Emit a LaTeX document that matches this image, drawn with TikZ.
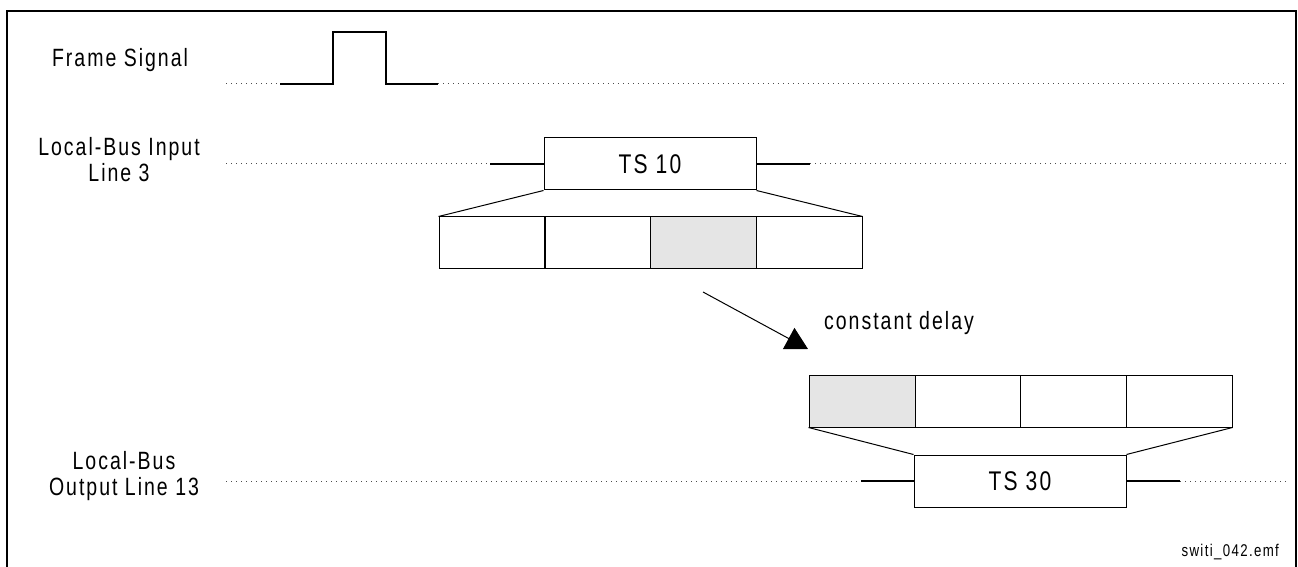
\documentclass[tikz,border=0pt]{standalone}
\usepackage{fontspec}
\setmainfont{Liberation Sans}[FakeStretch=0.78,LetterSpace=8]
\usepackage{tikz}
\usetikzlibrary{arrows.meta}
\usetikzlibrary{calc}

\tikzset{
  dotline/.style={line width=0.5pt, dash pattern=on 0.5pt off 2pt, black!70},
  sigline/.style={line width=0.6pt},
  tsbox/.style={draw, line width=0.5pt, minimum width=106pt, minimum height=26pt, inner sep=0pt, font=\fontsize{13.5}{15}\selectfont},
  cell/.style={draw, line width=0.5pt, minimum width=53pt, minimum height=26pt, inner sep=0pt},
  lbl/.style={align=center, font=\fontsize{12.5}{13}\selectfont}
}

\begin{document}
\begin{tikzpicture}[x=0.5pt,y=-0.5pt]
      \useasboundingbox (0,0) rectangle (1298,567);
      \draw[line width=1pt] (7,580) -- (7,11) -- (1296,11) -- (1296,580);

      % labels on the left
      \node[lbl] (fslbl) at (120,60) {Frame Signal};
      \node[lbl] (inlbl) at (119,160) {Local-Bus Input\\Line 3};
      \node[lbl] (outlbl) at (124,476) {Local-Bus\\Output Line 13};

      % frame signal
      \coordinate (fsA) at (226,84);
      \coordinate (fsB) at (280,84);
      \coordinate (fsC) at (438,84);
      \coordinate (fsD) at (1287,84);
      \draw[dotline] (fsA) -- (fsB);
      \draw[sigline] (fsB) -- (333,84) -- (333,32) -- (386,32) -- (386,84) -- (fsC);
      \draw[dotline] (fsC) -- (fsD);

      % input line
      \node[tsbox] (ts10) at (650,164) {TS 10};
      \coordinate (inA) at (226,164);
      \coordinate (inB) at (490,164);
      \coordinate (inC) at (810,164);
      \coordinate (inD) at (1287,164);
      \draw[dotline] (inA) -- (inB);
      \draw[sigline] (inB) -- (ts10.west);
      \draw[sigline] (ts10.east) -- (inC);
      \draw[dotline] (inC) -- (inD);

      \foreach \i/\x in {1/492,2/597,3/703,4/809}
        \node[cell] (in\i) at (\x,243) {};
      \fill[black!10] (in3.south west) rectangle (in3.north east);
      \node[cell] at (in3) {};
      \draw[line width=0.5pt] (ts10.south west) -- (in1.north west);
      \draw[line width=0.5pt] (ts10.south east) -- (in4.north east);

      % output line
      \foreach \i/\x in {1/862,2/967,3/1073,4/1179}
        \node[cell] (out\i) at (\x,401) {};
      \fill[black!10] (out1.south west) rectangle (out1.north east);
      \node[cell] at (out1) {};
      \node[tsbox] (ts30) at (1020,481) {TS 30};
      \draw[line width=0.5pt] (out1.south west) -- (ts30.north west);
      \draw[line width=0.5pt] (out4.south east) -- (ts30.north east);
      \coordinate (outA) at (226,481);
      \coordinate (outB) at (861,481);
      \coordinate (outC) at (1180,481);
      \coordinate (outD) at (1287,481);
      \draw[dotline] (outA) -- (outB);
      \draw[sigline] (outB) -- (ts30.west);
      \draw[sigline] (ts30.east) -- (outC);
      \draw[dotline] (outC) -- (outD);

      % delay arrow
      \coordinate (dlA) at (703,292);
      \coordinate (dlB) at (808,349);
      \draw[line width=0.5pt, -{Triangle[length=11pt,width=12pt]}] (dlA) -- (dlB);
      \node[lbl] (dlay) at (899,323) {constant delay};

      \node[anchor=east, font=\fontsize{8.5}{10}\selectfont] (fname) at (1286,552) {switi\_042.emf};
\end{tikzpicture}
\end{document}
